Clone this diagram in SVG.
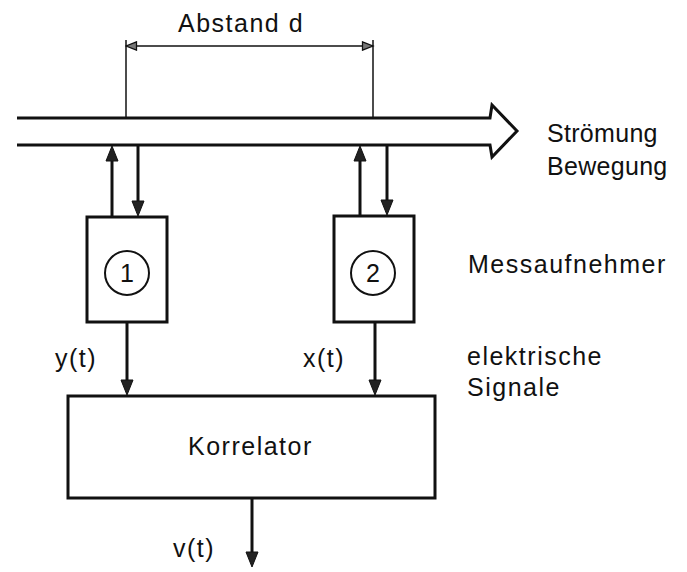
<svg xmlns="http://www.w3.org/2000/svg" width="687" height="572" viewBox="0 0 687 572">
<defs>
<style>
text{font-family:"Liberation Sans",Arial,sans-serif;font-size:25px;fill:#111;letter-spacing:1.5px}
.box{fill:#fff;stroke:#111;stroke-width:3}
.ln{fill:none;stroke:#111;stroke-width:3}
.thin{fill:none;stroke:#111;stroke-width:1.5}
.circ{fill:none;stroke:#111;stroke-width:2}
.head{fill:#222;stroke:#111;stroke-width:1}
</style>
<marker id="dh" viewBox="0 0 10 10" refX="10" refY="5" markerWidth="9" markerHeight="7" orient="auto" markerUnits="strokeWidth">
<path d="M0,1 L10,5 L0,9 Z" fill="#777" stroke="#111" stroke-width="1.2"/>
</marker>
</defs>

<g id="pipe">
<path class="ln" d="M17,118 H490 L492,105 L517,131 L492,157 L490,145 H17" stroke-linejoin="miter"/>
</g>

<g id="dimension">
<line class="thin" x1="126" y1="40" x2="126" y2="118"/>
<line class="thin" x1="373" y1="40" x2="373" y2="118"/>
<line class="thin" x1="200" y1="46" x2="126" y2="46" marker-end="url(#dh)"/>
<line class="thin" x1="200" y1="46" x2="373" y2="46" marker-end="url(#dh)"/>
<text x="178" y="32">Abstand d</text>
</g>

<g id="sensor1">
<rect class="box" x="87" y="217" width="80" height="105"/>
<circle class="circ" cx="127" cy="273" r="22"/>
<text x="127" y="282" text-anchor="middle" style="letter-spacing:0">1</text>
</g>

<g id="sensor2">
<rect class="box" x="334" y="216" width="80" height="106"/>
<circle class="circ" cx="373" cy="273" r="22"/>
<text x="373" y="282" text-anchor="middle" style="letter-spacing:0">2</text>
</g>

<g id="korrelator">
<rect class="box" x="68" y="396" width="367" height="102"/>
<text x="188" y="455">Korrelator</text>
</g>

<g id="connectors">
<line class="ln" x1="112" y1="217" x2="112" y2="158"/>
<polygon class="head" points="106,161 118,161 112,146"/>
<line class="ln" x1="138" y1="145" x2="138" y2="204"/>
<polygon class="head" points="132,201 144,201 138,216"/>
<line class="ln" x1="360" y1="216" x2="360" y2="158"/>
<polygon class="head" points="354,161 366,161 360,146"/>
<line class="ln" x1="387" y1="145" x2="387" y2="203"/>
<polygon class="head" points="381,200 393,200 387,215"/>
<line class="ln" x1="127" y1="322" x2="127" y2="383"/>
<polygon class="head" points="121,380 133,380 127,395"/>
<line class="ln" x1="375" y1="322" x2="375" y2="383"/>
<polygon class="head" points="369,380 381,380 375,395"/>
<line class="ln" x1="252" y1="498" x2="252" y2="555"/>
<polygon class="head" points="246,552 258,552 252,567"/>
</g>

<g id="labels">
<text x="547" y="142" style="letter-spacing:0.3px">Strömung</text>
<text x="547" y="175" style="letter-spacing:0.3px">Bewegung</text>
<text x="468" y="273">Messaufnehmer</text>
<text x="467" y="365">elektrische</text>
<text x="467" y="396">Signale</text>
<text x="55" y="367">y(t)</text>
<text x="303" y="367">x(t)</text>
<text x="173" y="557">v(t)</text>
</g>
</svg>
